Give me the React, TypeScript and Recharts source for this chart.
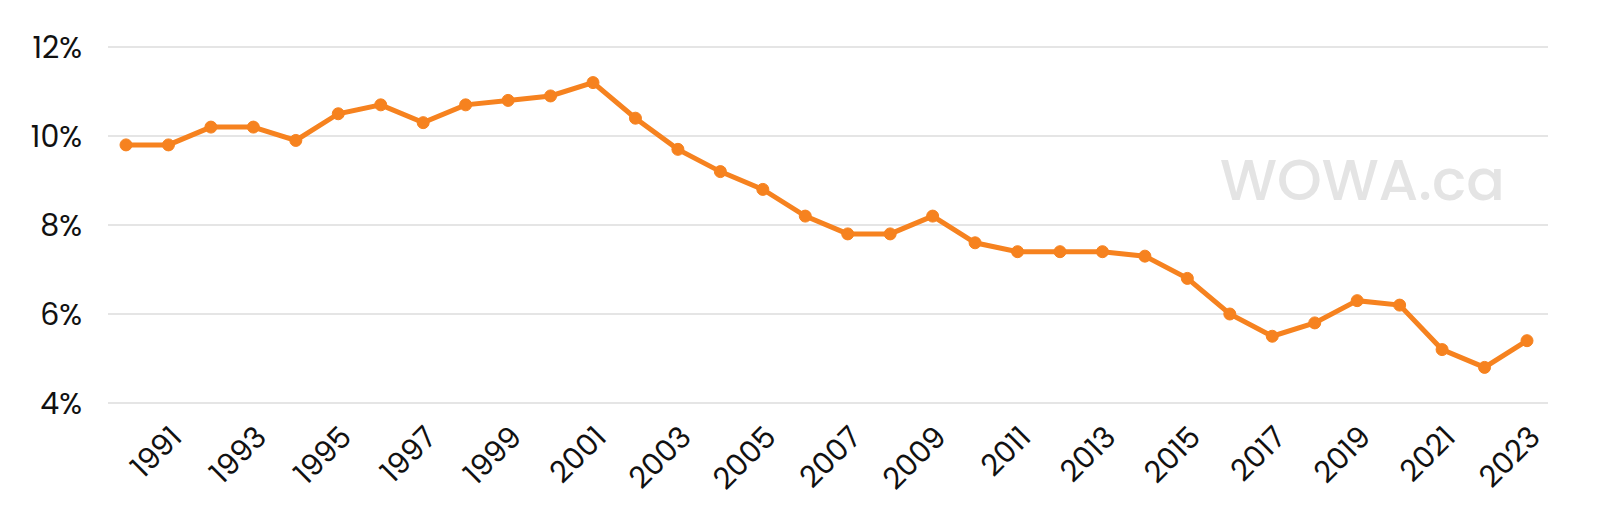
import React from "react";
import { LineChart, Line, XAxis, YAxis, CartesianGrid } from "recharts";

if (typeof document !== "undefined") {
  document.body.style.margin = "0";
}

const years = [
  1990, 1991, 1992, 1993, 1994, 1995, 1996, 1997, 1998, 1999, 2000, 2001,
  2002, 2003, 2004, 2005, 2006, 2007, 2008, 2009, 2010, 2011, 2012, 2013,
  2014, 2015, 2016, 2017, 2018, 2019, 2020, 2021, 2022, 2023
];

const rates = [
  9.8, 9.8, 10.2, 10.2, 9.9, 10.5, 10.7, 10.3, 10.7, 10.8, 10.9, 11.2,
  10.4, 9.7, 9.2, 8.8, 8.2, 7.8, 7.8, 8.2, 7.6, 7.4, 7.4, 7.4,
  7.3, 6.8, 6.0, 5.5, 5.8, 6.3, 6.2, 5.2, 4.8, 5.4
];

const yTicks = [4, 6, 8, 10, 12];
const xTicks = years.filter(y => y % 2 === 1);

const data = years.map((year, i) => ({ year, rate: rates[i] }));

const FONT = "Poppins, Inter, 'Open Sans', sans-serif";
const ORANGE = "#f6821f";

// rotated year labels, anchored at the end of the text
const YearTick = ({ x, y, payload }: any) => {
  const ax = x + 15;
  const ay = y + 28;
  return (
    <text
      x={ax}
      y={ay}
      textAnchor="end"
      fill="#111"
      fontSize={30}
      fontFamily={FONT}
      transform={`rotate(-45, ${ax}, ${ay})`}
    >
      {payload.value}
    </text>
  );
};

export default function App() {
  return (
    <div style={{ position: "relative", width: 1604, height: 526, background: "#fff" }}>
      <LineChart
        width={1604}
        height={526}
        data={data}
        margin={{ top: 47, right: 56, left: 0, bottom: 0 }}
      >
        <CartesianGrid vertical={false} stroke="#dcdcdc" strokeWidth={1.5} />
        <XAxis
          dataKey="year"
          ticks={xTicks}
          interval={0}
          tick={<YearTick />}
          tickLine={false}
          axisLine={false}
          height={123}
          padding={{ left: 18, right: 21 }}
        />
        <YAxis
          domain={[4, 12]}
          ticks={yTicks}
          width={108}
          tickLine={false}
          axisLine={false}
          tickSize={0}
          tickMargin={26}
          tickFormatter={(v: number) => `${v}%`}
          tick={{ fill: "#111", fontSize: 30, fontFamily: FONT }}
        />
        <Line
          type="linear"
          dataKey="rate"
          stroke={ORANGE}
          strokeWidth={5}
          dot={{ r: 6, fill: ORANGE, stroke: ORANGE, strokeWidth: 1 }}
          activeDot={false}
          isAnimationActive={false}
        />
      </LineChart>
      <div
        style={{
          position: "absolute",
          left: 1220,
          top: 148,
          fontFamily: FONT,
          fontSize: 57,
          fontWeight: 500,
          color: "#e4e4e4",
          lineHeight: "64px",
          pointerEvents: "none"
        }}
      >
        WOWA.ca
      </div>
    </div>
  );
}
